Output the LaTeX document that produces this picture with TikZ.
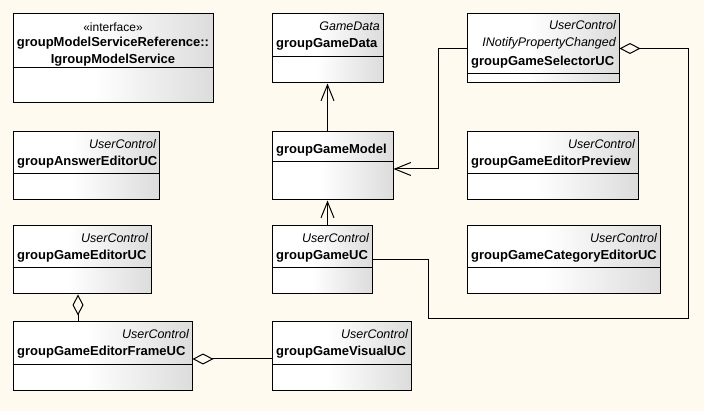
\documentclass[tikz,border=0pt]{standalone}
\usepackage{fontspec}
\setmainfont{Liberation Sans}
\usetikzlibrary{arrows.meta,calc}
\definecolor{bgc}{HTML}{FFFAF0}
\definecolor{gradgray}{HTML}{DCDCDC}
\pgfdeclarehorizontalshading{umlgrad}{100bp}{color(0bp)=(white); color(25bp)=(white); color(45bp)=(white); color(75bp)=(gradgray); color(100bp)=(gradgray)}
\tikzset{
  cls/.style={draw=black, line width=1pt, shading=umlgrad, rectangle, inner sep=0pt},
  stereo/.style={font=\fontsize{12.5}{14}\selectfont\itshape, inner sep=0pt},
  cname/.style={font=\fontsize{13}{16}\selectfont\bfseries, inner sep=0pt},
  divider/.style={line width=1pt},
  conn/.style={line width=1pt},
  assoc/.style={conn, -{Straight Barb[length=16pt,width=13pt]}},
  aggr/.style={conn, -{Diamond[open,length=21pt,width=11pt]}}
}
% name, x1, y1, x2, y2, divider
\newcommand\umlclass[6]{%
  \node[cls, minimum width={(#4-#2)*1pt}, minimum height={(#5-#3)*1pt}] (#1) at ({(#2+#4)/2},{(#3+#5)/2}) {};
  \draw[divider] (#2,#6) -- (#4,#6);
}
\begin{document}
\begin{tikzpicture}[x=1pt,y=-1pt]
\fill[bgc] (0,0) rectangle (704,411);
\useasboundingbox (0,0) rectangle (704,411);

% interface
\umlclass{iface}{13}{14}{213}{103}{68}
\node[font=\fontsize{12}{14}\selectfont, inner sep=0pt, anchor=base] at (113,32) {«interface»};
\node[cname, anchor=base] at (113,47) {groupModelServiceReference::};
\node[cname, anchor=base] at (113,64) {IgroupModelService};

% groupGameData
\umlclass{gdata}{272}{14}{383}{83}{57}
\node[stereo, anchor=base east] at (380,31) {GameData};
\node[cname, anchor=base west] at (276,48) {groupGameData};

% groupGameSelectorUC
\umlclass{gselect}{467}{14}{619}{83}{74}
\node[stereo, anchor=base east] at (616,30) {UserControl};
\node[stereo, anchor=base east] at (616,47) {INotifyPropertyChanged};
\node[cname, anchor=base west] at (471,66) {groupGameSelectorUC};

% groupAnswerEditorUC
\umlclass{ganswer}{13}{132}{159}{200}{174}
\node[stereo, anchor=base east] at (156,149) {UserControl};
\node[cname, anchor=base west] at (17,166) {groupAnswerEditorUC};

% groupGameEditorUC
\umlclass{geditor}{13}{226}{151}{294}{268}
\node[stereo, anchor=base east] at (148,243) {UserControl};
\node[cname, anchor=base west] at (17,260) {groupGameEditorUC};

% groupGameEditorFrameUC
\umlclass{gframe}{13}{322}{192}{391}{365}
\node[stereo, anchor=base east] at (189,339) {UserControl};
\node[cname, anchor=base west] at (17,356) {groupGameEditorFrameUC};

% groupGameModel
\umlclass{gmodel}{272}{132}{393}{200}{162}
\node[cname, anchor=base west] at (276,154) {groupGameModel};

% groupGameEditorPreview
\umlclass{gpreview}{467}{132}{638}{200}{174}
\node[stereo, anchor=base east] at (635,149) {UserControl};
\node[cname, anchor=base west] at (471,166) {groupGameEditorPreview};

% groupGameUC
\umlclass{gui}{272}{226}{372}{294}{268}
\node[stereo, anchor=base east] at (369,243) {UserControl};
\node[cname, anchor=base west] at (276,260) {groupGameUC};

% groupGameCategoryEditorUC
\umlclass{gcat}{467}{226}{660}{294}{268}
\node[stereo, anchor=base east] at (657,243) {UserControl};
\node[cname, anchor=base west] at (471,260) {groupGameCategoryEditorUC};

% groupGameVisualUC
\umlclass{gvisual}{272}{322}{411}{391}{365}
\node[stereo, anchor=base east] at (408,339) {UserControl};
\node[cname, anchor=base west] at (276,356) {groupGameVisualUC};

% connectors
\draw[assoc] (gdata.south |- gmodel.north) -- (gdata.south);
\draw[assoc] (gdata.south |- gui.north) -- (gdata.south |- gmodel.south);
\draw[assoc] (gselect.west) -- (438,48.5) |- ($(gmodel.east)+(0,3)$);
\draw[aggr] (gui.east) -| (428,319) -| (688,48.5) -- (gselect.east);
\draw[aggr] ($(gframe.north)+(-24.5,0)$) -- ($(geditor.south)+(-4,0)$);
\draw[aggr] ($(gvisual.west)+(0,2.5)$) -- ($(gframe.east)+(0,2.5)$);
\end{tikzpicture}
\end{document}
